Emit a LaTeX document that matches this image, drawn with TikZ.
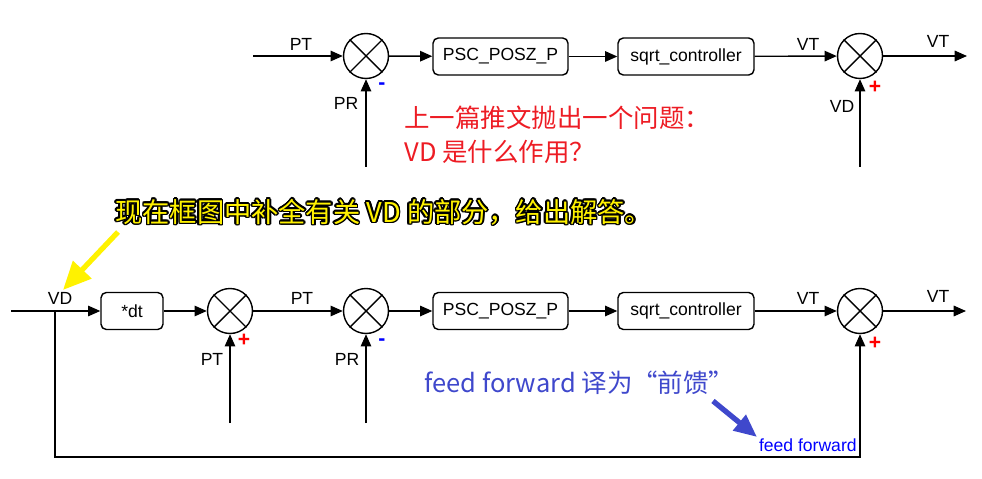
\documentclass[tikz,border=0pt]{standalone}
\usepackage{fontspec}
\setmainfont{Liberation Sans}
\newfontfamily\cjk{Noto Sans CJK SC}
\usepackage{contour}
\contourlength{0.9pt}
\usetikzlibrary{arrows.meta,positioning,calc}
\definecolor{NoteRed}{RGB}{237,28,36}
\definecolor{NoteBlue}{RGB}{63,72,204}
\definecolor{NoteYellow}{RGB}{255,242,0}

\begin{document}
\begin{tikzpicture}[x=0.02cm,y=-0.02cm,
    sum/.style={circle,draw,line width=0.8pt,minimum size=0.9cm,inner sep=0pt},
    blk/.style={draw,rounded corners=3pt,line width=0.8pt,
                minimum height=0.74cm,inner sep=1pt},
    sig/.style={line width=0.8pt,-{Triangle[length=7pt,width=6pt]}},
    lbl/.style={inner sep=0pt},
    plus/.style={text=red,font=\bfseries\large,inner sep=0pt},
    minus/.style={text=blue,font=\bfseries\large,inner sep=0pt},
    note/.style={font=\cjk\fontsize{14.5}{17}\selectfont,inner sep=0pt,anchor=west}
  ]
  \useasboundingbox (0,0) rectangle (982,479);

  % upper loop
  \node[sum] (s1) at (366,56) {};
  \node[sum] (s2) at (860,56) {};
  \node[blk,minimum width=2.7cm] (psc1) at (500.5,56.5) {PSC\_POSZ\_P};
  \node[blk,minimum width=2.72cm] (sqrt1) at (686,56.5) {sqrt\_controller};
  \coordinate (pt1) at (253,56);
  \coordinate (pr1) at (366,167);
  \coordinate (vd1) at (860,167);
  \coordinate (out1) at (967,56);
  \draw[sig] (pt1) -- (s1);
  \draw[sig] (s1) -- (psc1);
  \draw[sig] (psc1) -- (sqrt1);
  \draw[sig] (sqrt1) -- (s2);
  \draw[sig] (s2) -- (out1);
  \draw[sig] (pr1) -- (s1);
  \draw[sig] (vd1) -- (s2);
  \node[lbl] (l1) at (301,44) {PT};
  \node[lbl] (l2) at (346,103) {PR};
  \node[minus] (m1) at (382,86) {-};
  \node[lbl] (l3) at (808,44) {VT};
  \node[lbl] (l4) at (938,41) {VT};
  \node[lbl] (l5) at (842,106) {VD};
  \node[plus] (p1) at (875,87) {+};

  % lower loop with feed forward
  \node[sum] (a) at (230,311) {};
  \node[sum] (b) at (366,311) {};
  \node[sum] (c) at (860,311) {};
  \node[blk,minimum width=1.24cm] (dt) at (132,311) {*dt};
  \node[blk,minimum width=2.7cm] (psc2) at (500.5,311) {PSC\_POSZ\_P};
  \node[blk,minimum width=2.72cm] (sqrt2) at (686,311) {sqrt\_controller};
  \coordinate (vd2) at (11,311);
  \coordinate (jn) at (55,311);
  \coordinate (pt3) at (230,423);
  \coordinate (pr2) at (366,423);
  \coordinate (ff) at (860,457);
  \coordinate (out2) at (966,311);
  \draw[line width=0.8pt] (vd2) -- (jn);
  \draw[sig] (jn) -- (dt);
  \draw[sig] (dt) -- (a);
  \draw[sig] (a) -- (b);
  \draw[sig] (b) -- (psc2);
  \draw[sig] (psc2) -- (sqrt2);
  \draw[sig] (sqrt2) -- (c);
  \draw[sig] (c) -- (out2);
  \draw[sig] (pt3) -- (a);
  \draw[sig] (pr2) -- (b);
  \draw[sig] (jn) |- (ff) -- (c);
  \node[lbl] (l6) at (60,298) {VD};
  \node[lbl] (l7) at (302,298) {PT};
  \node[lbl] (l8) at (212,359) {PT};
  \node[plus] (p2) at (244,340) {+};
  \node[lbl] (l9) at (347,359) {PR};
  \node[minus] (m2) at (382,342) {-};
  \node[lbl] (l10) at (808,298) {VT};
  \node[lbl] (l11) at (938,296) {VT};
  \node[plus] (p3) at (875,343) {+};
  \node[lbl,text=blue,anchor=base east] (ffl) at (857,451) {feed forward};

  \foreach \s in {s1,s2,a,b,c}
    \draw[line width=0.8pt] (\s.45) -- (\s.225) (\s.135) -- (\s.315);

  % notes
  \node[note,text=NoteRed] (q1) at (404,118) {上一篇推文抛出一个问题：};
  \node[note,text=NoteRed] (q2) at (404,152) {VD 是什么作用？};
  \node[note,text=NoteYellow,font=\cjk\fontsize{15.5}{18}\selectfont] (hint) at (115,213)
    {\contour{black}{现在框图中补全有关 VD 的部分，给出解答。}};
  \node[note,text=NoteBlue] (ffnote) at (424,383) {feed forward 译为“前馈”};
  \coordinate (ya) at (118,232);
  \coordinate (yb) at (63,290);
  \draw[NoteYellow,line width=3pt,-{Triangle[length=16pt,width=14pt]}] (ya) -- (yb);
  \coordinate (ba) at (713,401);
  \coordinate (bb) at (757,437);
  \draw[NoteBlue,line width=3pt,-{Triangle[length=13pt,width=11pt]}] (ba) -- (bb);
\end{tikzpicture}
\end{document}
